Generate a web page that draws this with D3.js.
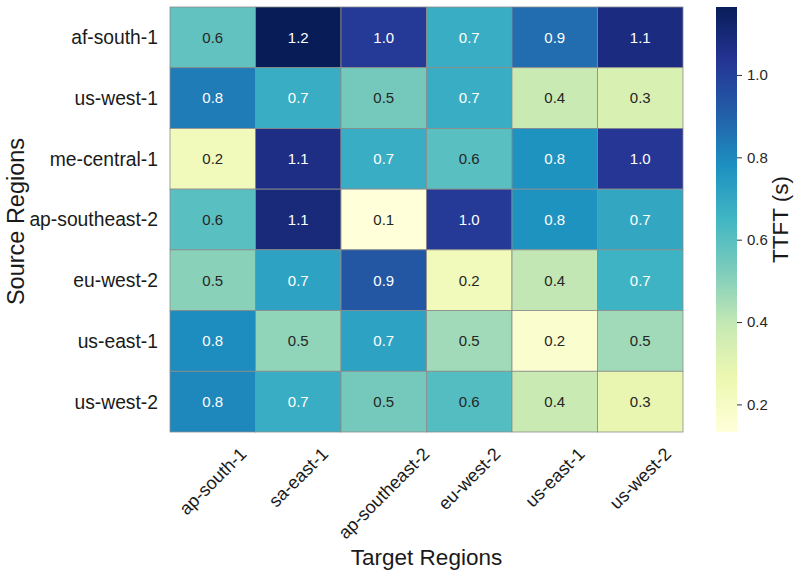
<!DOCTYPE html>
<html>
<head>
<meta charset="utf-8">
<script src="https://cdn.jsdelivr.net/npm/d3@7"></script>
<style>
  body { margin: 0; background: #fff; }
  text { font-family: "Liberation Sans", Arial, sans-serif; fill: #1a1a1a; }
</style>
</head>
<body>
<div id="chart"></div>
<script>
// rows / columns of the matrix
var sourceRegions = ["af-south-1", "us-west-1", "me-central-1", "ap-southeast-2", "eu-west-2", "us-east-1", "us-west-2"];
var targetRegions = ["ap-south-1", "sa-east-1", "ap-southeast-2", "eu-west-2", "us-east-1", "us-west-2"];

// TTFT values (s), one array per source row
var afSouth1 = [0.58, 1.165, 1.02, 0.68, 0.87, 1.08];
var usWest1 = [0.83, 0.68, 0.54, 0.68, 0.38, 0.33];
var meCentral1 = [0.23, 1.07, 0.68, 0.60, 0.77, 1.03];
var apSoutheast2 = [0.60, 1.09, 0.133, 1.02, 0.77, 0.70];
var euWest2 = [0.50, 0.72, 0.93, 0.23, 0.40, 0.66];
var usEast1 = [0.79, 0.49, 0.72, 0.46, 0.17, 0.46];
var usWest2 = [0.80, 0.68, 0.54, 0.61, 0.38, 0.28];
var matrix = [afSouth1, usWest1, meCentral1, apSoutheast2, euWest2, usEast1, usWest2];

var colorbarTicks = [0.2, 0.4, 0.6, 0.8, 1.0];

// matplotlib YlGnBu anchors
var ylgnbu = ["#ffffd9", "#edf8b1", "#c7e9b4", "#7fcdbb", "#41b6c4", "#1d91c0", "#225ea8", "#253494", "#081d58"];

var W = 800, H = 577;
var plot = { left: 170, right: 683, top: 7, bottom: 432 };
var bar = { left: 716, right: 737 };

var vmin = d3.min(matrix, r => d3.min(r));
var vmax = d3.max(matrix, r => d3.max(r));

var cmap = d3.scaleLinear()
  .domain(ylgnbu.map((c, i) => i / (ylgnbu.length - 1)))
  .range(ylgnbu)
  .interpolate(d3.interpolateRgb)
  .clamp(true);
var color = v => cmap((v - vmin) / (vmax - vmin));

var x = d3.scaleBand().domain(targetRegions).range([plot.left, plot.right]);
var y = d3.scaleBand().domain(sourceRegions).range([plot.top, plot.bottom]);

function luminance(c) {
  var rgb = d3.rgb(c);
  var lin = [rgb.r, rgb.g, rgb.b].map(v => {
    v = v / 255;
    return v <= 0.03928 ? v / 12.92 : Math.pow((v + 0.055) / 1.055, 2.4);
  });
  return 0.2126 * lin[0] + 0.7152 * lin[1] + 0.0722 * lin[2];
}

var svg = d3.select("#chart").append("svg")
  .attr("width", W)
  .attr("height", H);

var cells = [];
matrix.forEach((row, i) => row.forEach((v, j) => {
  cells.push({ src: sourceRegions[i], tgt: targetRegions[j], v: v });
}));

svg.append("g").selectAll("rect")
  .data(cells)
  .join("rect")
  .attr("x", d => x(d.tgt))
  .attr("y", d => y(d.src))
  .attr("width", x.bandwidth())
  .attr("height", y.bandwidth())
  .attr("fill", d => color(d.v))
  .attr("stroke", "#8c8c8c")
  .attr("stroke-width", 0.8);

svg.append("g").selectAll("text")
  .data(cells)
  .join("text")
  .attr("x", d => x(d.tgt) + x.bandwidth() / 2)
  .attr("y", d => y(d.src) + y.bandwidth() / 2)
  .attr("dy", "0.36em")
  .attr("text-anchor", "middle")
  .attr("font-size", "15px")
  .style("fill", d => luminance(color(d.v)) > 0.408 ? "#262626" : "#ffffff")
  .text(d => d.v.toFixed(1));

// y tick labels
svg.append("g").selectAll("text")
  .data(sourceRegions)
  .join("text")
  .attr("x", 158)
  .attr("y", d => y(d) + y.bandwidth() / 2)
  .attr("dy", "0.36em")
  .attr("text-anchor", "end")
  .attr("font-size", "19.3px")
  .text(d => d);

// x tick labels, rotated 45deg, box centred under the column
var xl = svg.append("g").selectAll("text")
  .data(targetRegions)
  .join("text")
  .attr("text-anchor", "middle")
  .attr("dy", "0.35em")
  .attr("font-size", "18px")
  .text(d => d);
xl.each(function(d) {
  var len = this.getComputedTextLength();
  var half = (len + 16) * Math.SQRT1_2 / 2;
  var cx = x(d) + x.bandwidth() / 2, cy = 445 + half;
  d3.select(this)
    .attr("x", cx)
    .attr("y", cy)
    .attr("transform", `rotate(-45, ${cx}, ${cy})`);
});

// axis titles
svg.append("text")
  .attr("x", (plot.left + plot.right) / 2)
  .attr("y", 565)
  .attr("text-anchor", "middle")
  .attr("font-size", "22.5px")
  .text("Target Regions");

svg.append("text")
  .attr("transform", `translate(24, ${(plot.top + plot.bottom) / 2 + 2}) rotate(-90)`)
  .attr("text-anchor", "middle")
  .attr("font-size", "23.5px")
  .text("Source Regions");

// colorbar
var cy = d3.scaleLinear().domain([vmin, vmax]).range([plot.bottom, plot.top]);

var grad = svg.append("defs").append("linearGradient")
  .attr("id", "cbar")
  .attr("x1", 0).attr("y1", 1).attr("x2", 0).attr("y2", 0);
grad.selectAll("stop")
  .data(ylgnbu)
  .join("stop")
  .attr("offset", (d, i) => i / (ylgnbu.length - 1))
  .attr("stop-color", d => d);

svg.append("rect")
  .attr("x", bar.left)
  .attr("y", plot.top)
  .attr("width", bar.right - bar.left)
  .attr("height", plot.bottom - plot.top)
  .attr("fill", "url(#cbar)");

var cax = svg.append("g")
  .attr("transform", `translate(${bar.right}, 0)`)
  .call(d3.axisRight(cy).tickValues(colorbarTicks).tickFormat(d3.format(".1f")).tickSize(5).tickPadding(5));
cax.select(".domain").remove();
cax.selectAll(".tick line").attr("stroke", "#333");
cax.selectAll(".tick text")
  .attr("font-size", "15px")
  .style("font-family", "'Liberation Sans', Arial, sans-serif")
  .style("fill", "#262626");

svg.append("text")
  .attr("transform", `translate(788, ${(plot.top + plot.bottom) / 2}) rotate(-90)`)
  .attr("text-anchor", "middle")
  .attr("font-size", "22.5px")
  .text("TTFT (s)");
</script>
</body>
</html>
